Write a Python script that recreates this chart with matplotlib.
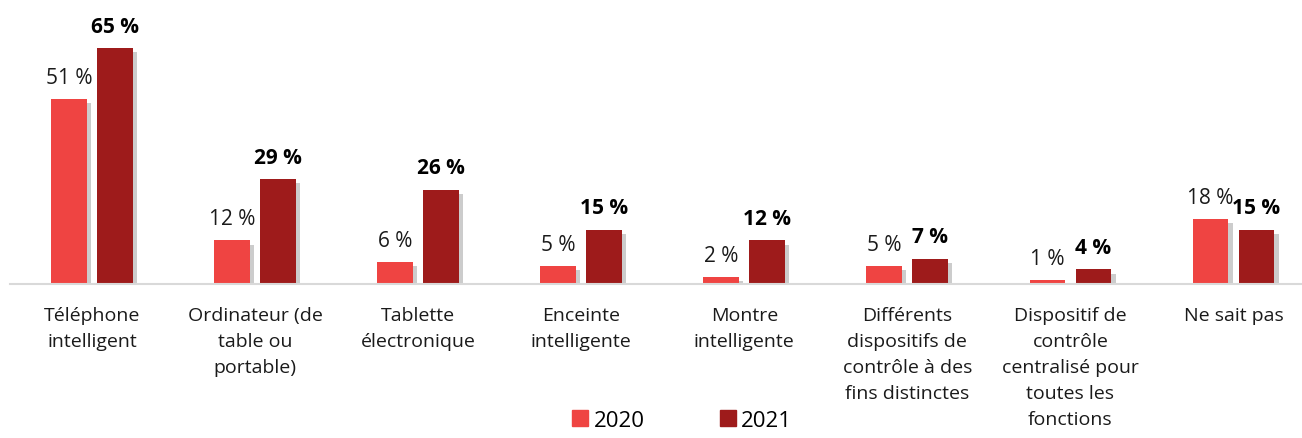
import matplotlib.pyplot as plt
import matplotlib.patheffects as pe
from matplotlib.patches import Patch
import numpy as np

plt.rcParams['font.family'] = ['Open Sans', 'DejaVu Sans']

categories = ['Téléphone\nintelligent', 'Ordinateur (de\ntable ou\nportable)',
              'Tablette\nélectronique', 'Enceinte\nintelligente',
              'Montre\nintelligente', 'Différents\ndispositifs de\ncontrôle à des\nfins distinctes',
              'Dispositif de\ncontrôle\ncentralisé pour\ntoutes les\nfonctions', 'Ne sait pas']
v2020 = [51, 12, 6, 5, 2, 5, 1, 18]
v2021 = [65, 29, 26, 15, 12, 7, 4, 15]

c2020 = '#EF4442'
c2021 = '#9E1B1B'

fig = plt.figure(figsize=(13.02, 4.39), dpi=100)
ax = fig.add_axes([0.0077, 0.3508, 0.9923, 0.579])

x = np.arange(len(categories))
w = 0.22
off = 0.141
shadow = [pe.SimplePatchShadow(offset=(3, -3), shadow_rgbFace='black', alpha=0.2), pe.Normal()]

ax.bar(x - off, v2020, w, color=c2020, path_effects=shadow)
ax.bar(x + off, v2021, w, color=c2021, path_effects=shadow)

for xi, v in zip(x, v2020):
    ax.annotate(f'{v} %', (xi - off, v), xytext=(0, 8), textcoords='offset points',
                ha='center', va='bottom', fontsize=15, color='#1a1a1a')
for xi, v in zip(x, v2021):
    ax.annotate(f'{v} %', (xi + off, v), xytext=(0, 8), textcoords='offset points',
                ha='center', va='bottom', fontsize=15, fontweight='bold', color='black')

ax.set_xlim(-0.503, 7.42)
ax.set_ylim(0, 70)
ax.set_yticks([])
ax.set_xticks([])
for s in ['top', 'right', 'left']:
    ax.spines[s].set_visible(False)
ax.spines['bottom'].set_color('#d9d9d9')
ax.spines['bottom'].set_linewidth(1.5)

for xi, lab in zip(x, categories):
    ax.annotate(lab, (xi, 0), xycoords=('data', 'axes fraction'), xytext=(0, -16),
                textcoords='offset points', ha='center', va='top', fontsize=14,
                color='#1a1a1a', linespacing=1.56)

handles = [Patch(color=c2020), Patch(color=c2021)]
fig.legend(handles=handles, labels=['2020', '2021'], loc='center', bbox_to_anchor=(0.524, 0.04),
           ncol=2, frameon=False, fontsize=16, handlelength=0.7, handleheight=0.7,
           handletextpad=0.25, columnspacing=3.4)

fig.savefig('out.png', dpi=100)
